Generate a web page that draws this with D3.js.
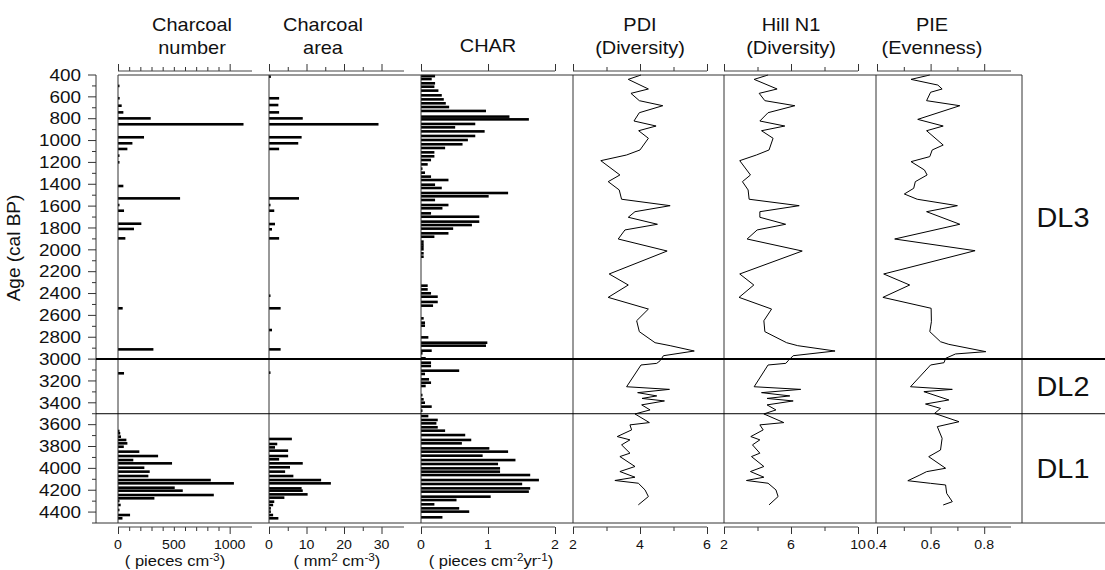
<!DOCTYPE html>
<html>
<head>
<meta charset="utf-8">
<script src="https://cdn.jsdelivr.net/npm/d3@7"></script>
<style>
  body { margin: 0; background: #fff; }
  text { font-family: "Liberation Sans", Arial, sans-serif; fill: #111; }
</style>
</head>
<body>
<svg id="chart" width="1105" height="570"></svg>
<script>
// ---------- data ----------
const panelTitles = [["Charcoal", "number"], ["Charcoal", "area"], ["CHAR"],
                     ["PDI", "(Diversity)"], ["Hill N1", "(Diversity)"], ["PIE", "(Evenness)"]];
const zoneNames = ["DL3", "DL2", "DL1"];
const zoneBounds = [400, 3000, 3500, 4500];

const ageTicks = [400, 600, 800, 1000, 1200, 1400, 1600, 1800, 2000, 2200, 2400,
                  2600, 2800, 3000, 3200, 3400, 3600, 3800, 4000, 4200, 4400];
const ageMinor = [500, 700, 900, 1100, 1300, 1500, 1700, 1900, 2100, 2300, 2500,
                  2700, 2900, 3100, 3300, 3500, 3700, 3900, 4100, 4300, 4500];

// charcoal number (pieces cm-3)
const numAge = [500, 613, 681, 742, 797, 851, 970, 1025, 1077, 1138, 1199, 1416, 1529, 1590, 1642,
                1761, 1809, 1895, 2535, 2911, 3130, 3658, 3679, 3710, 3740, 3771, 3802, 3847, 3887,
                3924, 3954, 3994, 4030, 4070, 4107, 4137, 4177, 4204, 4244, 4274, 4299, 4335, 4381,
                4427, 4457];
const numVal = [12, 15, 33, 48, 293, 1124, 233, 129, 84, 10, 10, 48, 556, 10, 54,
                209, 143, 66, 42, 317, 54, 12, 20, 27, 75, 84, 52, 191, 359,
                137, 484, 236, 284, 272, 831, 1038, 508, 580, 858, 326, 12, 24, 10,
                108, 40];

// charcoal area (mm2 cm-3)
const areaAge = [415, 613, 675, 742, 797, 851, 970, 1025, 1077, 1529, 1590, 1642, 1764, 1812, 1895,
                 2420, 2535, 2734, 2911, 3124, 3731, 3777, 3808, 3838, 3887, 3917, 3954, 3990, 4030,
                 4070, 4107, 4137, 4183, 4204, 4238, 4268, 4305, 4335, 4366, 4396, 4427, 4457];
const areaVal = [0.5, 2.7, 2.5, 2.7, 9.0, 29.2, 8.7, 7.8, 2.7, 8.0, 0.3, 1.4, 1.6, 0.8, 2.7,
                 0.4, 3.1, 0.8, 3.1, 0.4, 6.1, 2.2, 1.6, 5.1, 5.1, 2.7, 9.0, 5.6, 4.3,
                 6.5, 13.9, 16.5, 8.7, 9.0, 10.3, 4.1, 1.4, 1.1, 0.5, 0.5, 1.1, 2.5];

// CHAR (pieces cm-2 yr-1)
const charAge = [410, 437, 476, 507, 543, 586, 623, 659, 693, 729, 781, 806, 848, 879, 916, 958,
                 995, 1034, 1068, 1108, 1144, 1178, 1218, 1257, 1294, 1330, 1361, 1404, 1434, 1480,
                 1510, 1544, 1590, 1620, 1666, 1697, 1742, 1773, 1806, 1849, 1880, 1925, 1950, 1971,
                 1995, 2032, 2063, 2328, 2362, 2398, 2429, 2477, 2511, 2627, 2667, 2694, 2801, 2850,
                 2877, 2923, 2947, 2993, 3033, 3063, 3106, 3136, 3185, 3216, 3246, 3329, 3368, 3399,
                 3435, 3472, 3521, 3557, 3588, 3624, 3655, 3695, 3740, 3771, 3817, 3847, 3884, 3924,
                 3960, 4000, 4030, 4061, 4107, 4143, 4183, 4213, 4259, 4290, 4329, 4366, 4396, 4448];
const charVal = [0.21, 0.16, 0.21, 0.20, 0.26, 0.31, 0.34, 0.37, 0.42, 0.97, 1.32, 1.61, 0.81, 0.51, 0.95, 0.81,
                 0.70, 0.62, 0.36, 0.20, 0.20, 0.15, 0.10, 0.01, 0.06, 0.15, 0.41, 0.21, 0.31, 1.30,
                 1.01, 0.21, 0.41, 0.32, 0.15, 0.87, 0.87, 0.76, 0.48, 0.41, 0.20, 0.04, 0.04, 0.04,
                 0.04, 0.04, 0.04, 0.10, 0.10, 0.15, 0.25, 0.25, 0.18, 0.04, 0.06, 0.06, 0.11, 0.99,
                 0.97, 0.16, 0.02, 0.07, 0.15, 0.15, 0.57, 0.06, 0.12, 0.15, 0.07, 0.01, 0.04, 0.06,
                 0.16, 0.02, 0.11, 0.25, 0.23, 0.25, 0.36, 0.66, 0.75, 0.61, 1.02, 1.30, 0.92, 1.41,
                 1.15, 1.18, 1.18, 1.63, 1.76, 1.51, 1.63, 1.61, 1.04, 0.53, 0.20, 0.57, 0.72, 0.32];

// PDI
const pdiAge = [400, 440, 528, 568, 635, 681, 745, 821, 867, 910, 979, 1086, 1132, 1184, 1315, 1376,
                1452, 1537, 1596, 1651, 1702, 1766, 1818, 1901, 2011, 2221, 2322, 2435, 2542, 2649,
                2749, 2850, 2877, 2926, 2969, 3015, 3039, 3054, 3253, 3277, 3307, 3337, 3360, 3383,
                3419, 3465, 3502, 3581, 3602, 3648, 3709, 3739, 3785, 3861, 3892, 3983, 4029, 4081,
                4111, 4136, 4197, 4258, 4334];
const pdiVal = [4.03, 3.65, 4.25, 3.73, 3.98, 4.68, 3.98, 3.82, 4.48, 3.96, 4.25, 4.00, 3.60, 2.83, 3.40, 3.05,
                3.38, 3.45, 4.90, 3.85, 3.65, 4.52, 3.55, 3.35, 4.81, 3.08, 3.65, 3.05, 4.25, 3.90,
                3.98, 4.45, 4.90, 5.62, 4.70, 4.60, 4.50, 4.03, 3.60, 4.88, 3.93, 4.50, 4.06, 4.73,
                4.05, 4.30, 3.85, 4.28, 3.70, 3.75, 3.32, 3.70, 3.45, 3.70, 3.40, 3.85, 3.40, 3.85,
                3.25, 3.95, 4.15, 4.25, 3.95];

// Hill N1
const hillAge = pdiAge;
const hillVal = [4.63, 3.80, 5.17, 4.10, 4.44, 6.23, 4.63, 4.14, 5.63, 4.24, 4.93, 4.69, 3.94, 2.94, 3.58, 3.10,
                 3.44, 3.50, 6.49, 4.14, 4.14, 5.68, 3.98, 3.38, 6.67, 2.94, 3.78, 2.90, 4.84, 4.38,
                 4.44, 5.74, 6.40, 8.63, 6.13, 5.83, 5.69, 4.63, 3.80, 6.58, 4.24, 5.93, 4.57, 6.13,
                 4.57, 5.10, 4.38, 5.57, 4.14, 4.34, 3.60, 4.14, 3.70, 4.14, 3.64, 4.38, 3.58, 4.38,
                 3.34, 4.63, 5.10, 5.23, 4.69];

// PIE
const pieAge = [400, 440, 492, 528, 558, 635, 681, 806, 867, 910, 1041, 1086, 1147, 1193, 1269, 1315,
                1376, 1437, 1489, 1537, 1596, 1651, 1766, 1901, 2008, 2221, 2322, 2435, 2535, 2658,
                2749, 2841, 2865, 2932, 2953, 2993, 3033, 3054, 3253, 3277, 3298, 3374, 3411, 3451,
                3497, 3573, 3618, 3725, 3832, 3893, 3999, 4030, 4061, 4113, 4137, 4152, 4229, 4305, 4335];
const pieVal = [0.597, 0.527, 0.627, 0.643, 0.600, 0.585, 0.709, 0.552, 0.647, 0.585, 0.647, 0.606, 0.597, 0.527, 0.577, 0.587,
                0.543, 0.537, 0.502, 0.550, 0.700, 0.585, 0.709, 0.466, 0.766, 0.425, 0.522, 0.422, 0.602, 0.603,
                0.597, 0.637, 0.668, 0.806, 0.693, 0.656, 0.650, 0.600, 0.525, 0.681, 0.575, 0.668, 0.581, 0.637,
                0.615, 0.706, 0.625, 0.643, 0.637, 0.593, 0.656, 0.585, 0.560, 0.515, 0.600, 0.656, 0.660, 0.681, 0.647];

// axis ticks and labels per panel
const numTicks = [0, 100, 200, 300, 400, 500, 600, 700, 800, 900, 1000];
const numLabels = [0, 500, 1000];
const areaTicks = [0, 5, 10, 15, 20, 25, 30];
const areaLabels = [0, 10, 20, 30];
const charTicks = [0, 1, 2];
const charLabels = [0, 1, 2];
const pdiTicks = [2, 3, 4, 5, 6];
const pdiLabels = [2, 4, 6];
const hillTicks = [2, 4, 6, 8, 10];
const hillLabels = [2, 6, 10];
const pieTicks = [0.4, 0.5, 0.6, 0.7, 0.8];
const pieLabels = [0.4, 0.6, 0.8];

// ---------- layout ----------
const W = 1105, H = 570;
const plotTop = 75, plotBottom = 523, axisX = 96, rightEdge = 1022;
const SX = 1.18; // the source figure is stretched sideways a little

const svg = d3.select("#chart");
const y = d3.scaleLinear().domain([400, 4500]).range([plotTop, plotBottom]);

function txt(g, x, yy, str, size, anchor, sx) {
    return g.append("text")
            .attr("transform", "translate(" + x + "," + yy + ") scale(" + (sx || SX) + ",1)")
            .attr("text-anchor", anchor || "middle")
            .style("font-size", size + "px")
            .text(str);
}

const panels = [
    { left: 118, right: 269, domain: [0, 1200], end: 252, ticks: numTicks, labels: numLabels, long: [0, 1000],
      age: numAge, val: numVal, type: "bar", titleX: 192 },
    { left: 269, right: 421, domain: [0, 36], end: 404, ticks: areaTicks, labels: areaLabels, long: [0, 10, 20, 30],
      age: areaAge, val: areaVal, type: "bar", titleX: 323 },
    { left: 421, right: 573, domain: [0, 2], end: 555, ticks: charTicks, labels: charLabels, long: [0, 1, 2],
      age: charAge, val: charVal, type: "bar", titleX: 488 },
    { left: 573, right: 724, domain: [2, 6], end: 707, ticks: pdiTicks, labels: pdiLabels, long: [2, 4, 6],
      age: pdiAge, val: pdiVal, type: "line", titleX: 640 },
    { left: 724, right: 876, domain: [2, 10], end: 858, ticks: hillTicks, labels: hillLabels, long: [2, 6, 10],
      age: hillAge, val: hillVal, type: "line", titleX: 791 },
    { left: 877, right: 1022, domain: [0.4, 0.9], end: 1011, ticks: pieTicks, labels: pieLabels, long: [0.4, 0.6, 0.8],
      age: pieAge, val: pieVal, type: "line", titleX: 932 }
];

// ---------- left age axis ----------
const ageAxis = svg.append("g").attr("transform", "translate(" + axisX + ",0)");
ageAxis.append("line").attr("y1", plotTop).attr("y2", plotBottom).attr("stroke", "#333");
ageAxis.selectAll(".maj").data(ageTicks).enter().append("line")
       .attr("x1", -8).attr("x2", 0).attr("y1", d => y(d)).attr("y2", d => y(d)).attr("stroke", "#333");
ageAxis.selectAll(".min").data(ageMinor).enter().append("line")
       .attr("x1", -4).attr("x2", 0).attr("y1", d => y(d)).attr("y2", d => y(d)).attr("stroke", "#333");
ageTicks.forEach(d => {
    txt(ageAxis, -15, y(d), d, 16, "end").attr("dy", "0.36em");
});
svg.append("text")
   .attr("transform", "translate(20," + 248 + ") rotate(-90)")
   .attr("text-anchor", "middle")
   .style("font-size", "19px")
   .text("Age (cal BP)");

// ---------- panels ----------
panels.forEach((p, i) => {
    const x = d3.scaleLinear().domain(p.domain).range([p.left, p.end]);
    const g = svg.append("g").attr("class", "panel panel-" + i);
    const pts = p.age.map((a, j) => ({ age: a, v: p.val[j] }));

    if (p.type === "bar") {
        g.selectAll(".bar").data(pts).enter().append("rect")
         .attr("class", "bar")
         .attr("x", p.left)
         .attr("y", d => y(d.age) - 1.3)
         .attr("width", d => Math.max(1.5, x(d.v) - p.left))
         .attr("height", 2.6)
         .attr("fill", "#000");
    } else {
        g.append("path")
         .datum(pts)
         .attr("fill", "none")
         .attr("stroke", "#000")
         .attr("stroke-width", 1)
         .attr("d", d3.line().x(d => x(d.v)).y(d => y(d.age)));
    }

    // top axis, no labels
    const topAx = g.append("g").attr("transform", "translate(0,71)")
                   .call(d3.axisTop(x).tickValues(p.ticks).tickSizeOuter(0).tickSize(4).tickFormat(""));
    // bottom axis
    const botAx = g.append("g").attr("transform", "translate(0,527)")
                   .call(d3.axisBottom(x).tickValues(p.ticks).tickSizeOuter(0).tickSize(4).tickFormat(""));
    [topAx, botAx].forEach(ax => {
        ax.select(".domain").remove();
        ax.append("line").attr("x1", p.left).attr("x2", p.end).attr("stroke", "#444");
        ax.selectAll(".tick line").attr("stroke", "#333")
          .attr("y2", function (d) {
              const s = p.long.indexOf(d) >= 0 ? 7 : 4;
              return ax === topAx ? -s : s;
          });
    });
    p.labels.forEach(l => {
        txt(g, x(l), 549, l, 12);
    });

    // titles
    const t = panelTitles[i];
    if (t.length === 1) {
        txt(g, p.titleX, 52, t[0], 19, "middle", 1.05);
    } else {
        txt(g, p.titleX, 31, t[0], 19, "middle", 1.05);
        txt(g, p.titleX, 54, t[1], 19, "middle", 1.05);
    }
});

// unit labels under the charcoal panels
function unit(x, parts) {
    const t = svg.append("text")
                 .attr("transform", "translate(" + x + ",566) scale(" + SX + ",1)")
                 .attr("text-anchor", "middle")
                 .style("font-size", "14px");
    parts.forEach(pt => {
        const s = t.append("tspan").text(pt[0]);
        if (pt[1]) s.attr("baseline-shift", "super").style("font-size", "10px");
    });
}
unit(175, [["( pieces cm"], ["-3", true], [")"]]);
unit(337, [["( mm"], ["2", true], [" cm"], ["-3", true], [")"]]);
unit(491, [["( pieces cm"], ["-2", true], ["yr"], ["-1", true], [")"]]);

// ---------- frame ----------
const frame = svg.append("g").attr("stroke", "#333").attr("fill", "none");
frame.append("line").attr("x1", 118).attr("x2", rightEdge).attr("y1", plotTop).attr("y2", plotTop);
frame.append("line").attr("x1", axisX).attr("x2", W).attr("y1", plotBottom).attr("y2", plotBottom);
[118, 269, 421, 573, 724, 876, rightEdge].forEach(xx => {
    frame.append("line").attr("x1", xx).attr("x2", xx).attr("y1", plotTop).attr("y2", plotBottom);
});
zoneBounds.slice(1, 3).forEach((b, i) => {
    svg.append("line")
       .attr("x1", axisX).attr("x2", W)
       .attr("y1", y(b)).attr("y2", y(b))
       .attr("stroke", "#000")
       .attr("stroke-width", i === 0 ? 2 : 1);
});
zoneNames.forEach((z, i) => {
    const mid = (y(zoneBounds[i]) + y(zoneBounds[i + 1])) / 2;
    txt(svg, 1063, mid, z, 28, "middle", 1.03).attr("dy", "0.36em");
});
</script>
</body>
</html>
